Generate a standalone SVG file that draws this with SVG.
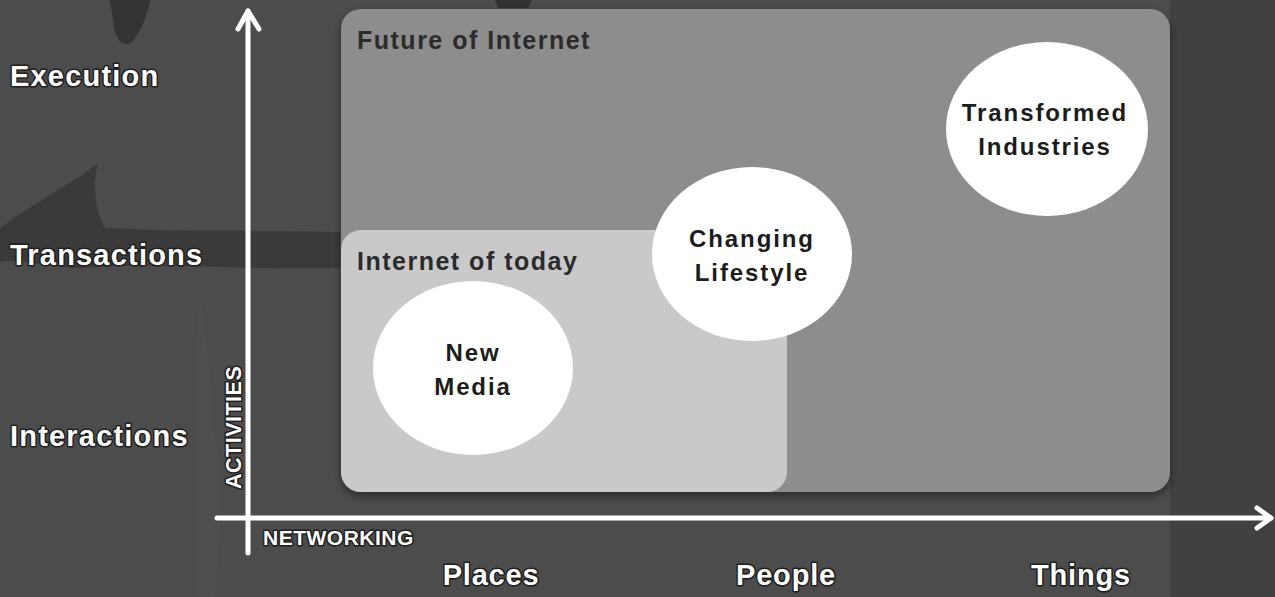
<svg xmlns="http://www.w3.org/2000/svg" width="1275" height="597" viewBox="0 0 1275 597">
<style>
.lbl{font-family:"Liberation Sans",Arial,sans-serif;font-weight:bold;fill:#ffffff;stroke:#1e1e1e;stroke-width:3;stroke-linejoin:round;paint-order:stroke}
.side{font-size:29px;letter-spacing:1.2px}
.cat{font-size:29px;letter-spacing:0.8px;text-anchor:middle}
.ax{font-size:21px;letter-spacing:0.5px}
.box{font-family:"Liberation Sans",Arial,sans-serif;font-weight:bold;font-size:25px;letter-spacing:1.5px;fill:#2b2b2b}
.nt{font-family:"Liberation Sans",Arial,sans-serif;font-weight:bold;font-size:24px;letter-spacing:1.9px;fill:#1c1c1c;text-anchor:middle}
.circ{fill:#ffffff}
.axis{stroke:#ffffff;stroke-width:5;fill:none;stroke-linecap:round;stroke-linejoin:round}
</style>
<defs>
<filter id="sh" x="-5%" y="-5%" width="110%" height="115%">
<feDropShadow dx="0" dy="4" stdDeviation="4" flood-color="#000" flood-opacity="0.45"/>
</filter>
</defs>
<g id="background">
<rect x="0" y="0" width="1275" height="597" fill="#4c4c4c"/>
<rect x="1170" y="0" width="105" height="597" fill="#414141"/>
<path d="M110 0 L150 0 C148 12 142 30 132 42 C124 48 116 40 114 28 Z" fill="#333333"/>
<path d="M0 228 C30 205 70 185 98 163 C92 185 95 210 105 228 C180 232 260 230 340 232 L340 268 C250 270 150 262 80 268 C50 268 20 258 0 262 Z" fill="#3a3a3a"/>
<path d="M495 0 L532 0 L528 8 L498 8 Z" fill="#333333"/>
<path d="M200 300 C212 350 208 420 222 470 L215 597 L195 597 C200 520 192 420 200 300 Z" fill="#555555" opacity="0.4"/>
</g>
<g id="future-of-internet">
<rect x="341" y="9" width="829" height="483" rx="20" fill="#8d8d8d" filter="url(#sh)"/>
<text class="box" x="357" y="49">Future of Internet</text>
</g>
<g id="internet-of-today">
<rect x="341" y="230" width="446" height="262" rx="20" fill="#c9c9c9"/>
<text class="box" x="357" y="270">Internet of today</text>
</g>
<g id="new-media">
<ellipse class="circ" cx="473" cy="368" rx="100" ry="87"/>
<text class="nt" x="473" y="361">New</text>
<text class="nt" x="473" y="395">Media</text>
</g>
<g id="changing-lifestyle">
<ellipse class="circ" cx="752" cy="254" rx="100" ry="87"/>
<text class="nt" x="752" y="247">Changing</text>
<text class="nt" x="752" y="281">Lifestyle</text>
</g>
<g id="transformed-industries">
<ellipse class="circ" cx="1047" cy="129" rx="101" ry="87"/>
<text class="nt" x="1045" y="121">Transformed</text>
<text class="nt" x="1045" y="155">Industries</text>
</g>
<g id="connectors">
<path class="axis" d="M248 553 L248 11"/>
<path class="axis" d="M238 29 L248 11 L259 29"/>
<path class="axis" d="M217 518 L1271 518"/>
<path class="axis" d="M1257 508 L1271 518 L1257 528"/>
</g>
<g id="labels">
<text class="lbl side" x="10" y="86">Execution</text>
<text class="lbl side" x="10" y="265">Transactions</text>
<text class="lbl side" x="10" y="446">Interactions</text>
<text class="lbl ax" x="0" y="0" transform="translate(241 489) rotate(-90)" style="font-size:21.5px">ACTIVITIES</text>
<text class="lbl ax" x="263" y="545">NETWORKING</text>
<text class="lbl cat" x="491" y="585">Places</text>
<text class="lbl cat" x="786" y="585">People</text>
<text class="lbl cat" x="1081" y="585">Things</text>
</g>
</svg>
